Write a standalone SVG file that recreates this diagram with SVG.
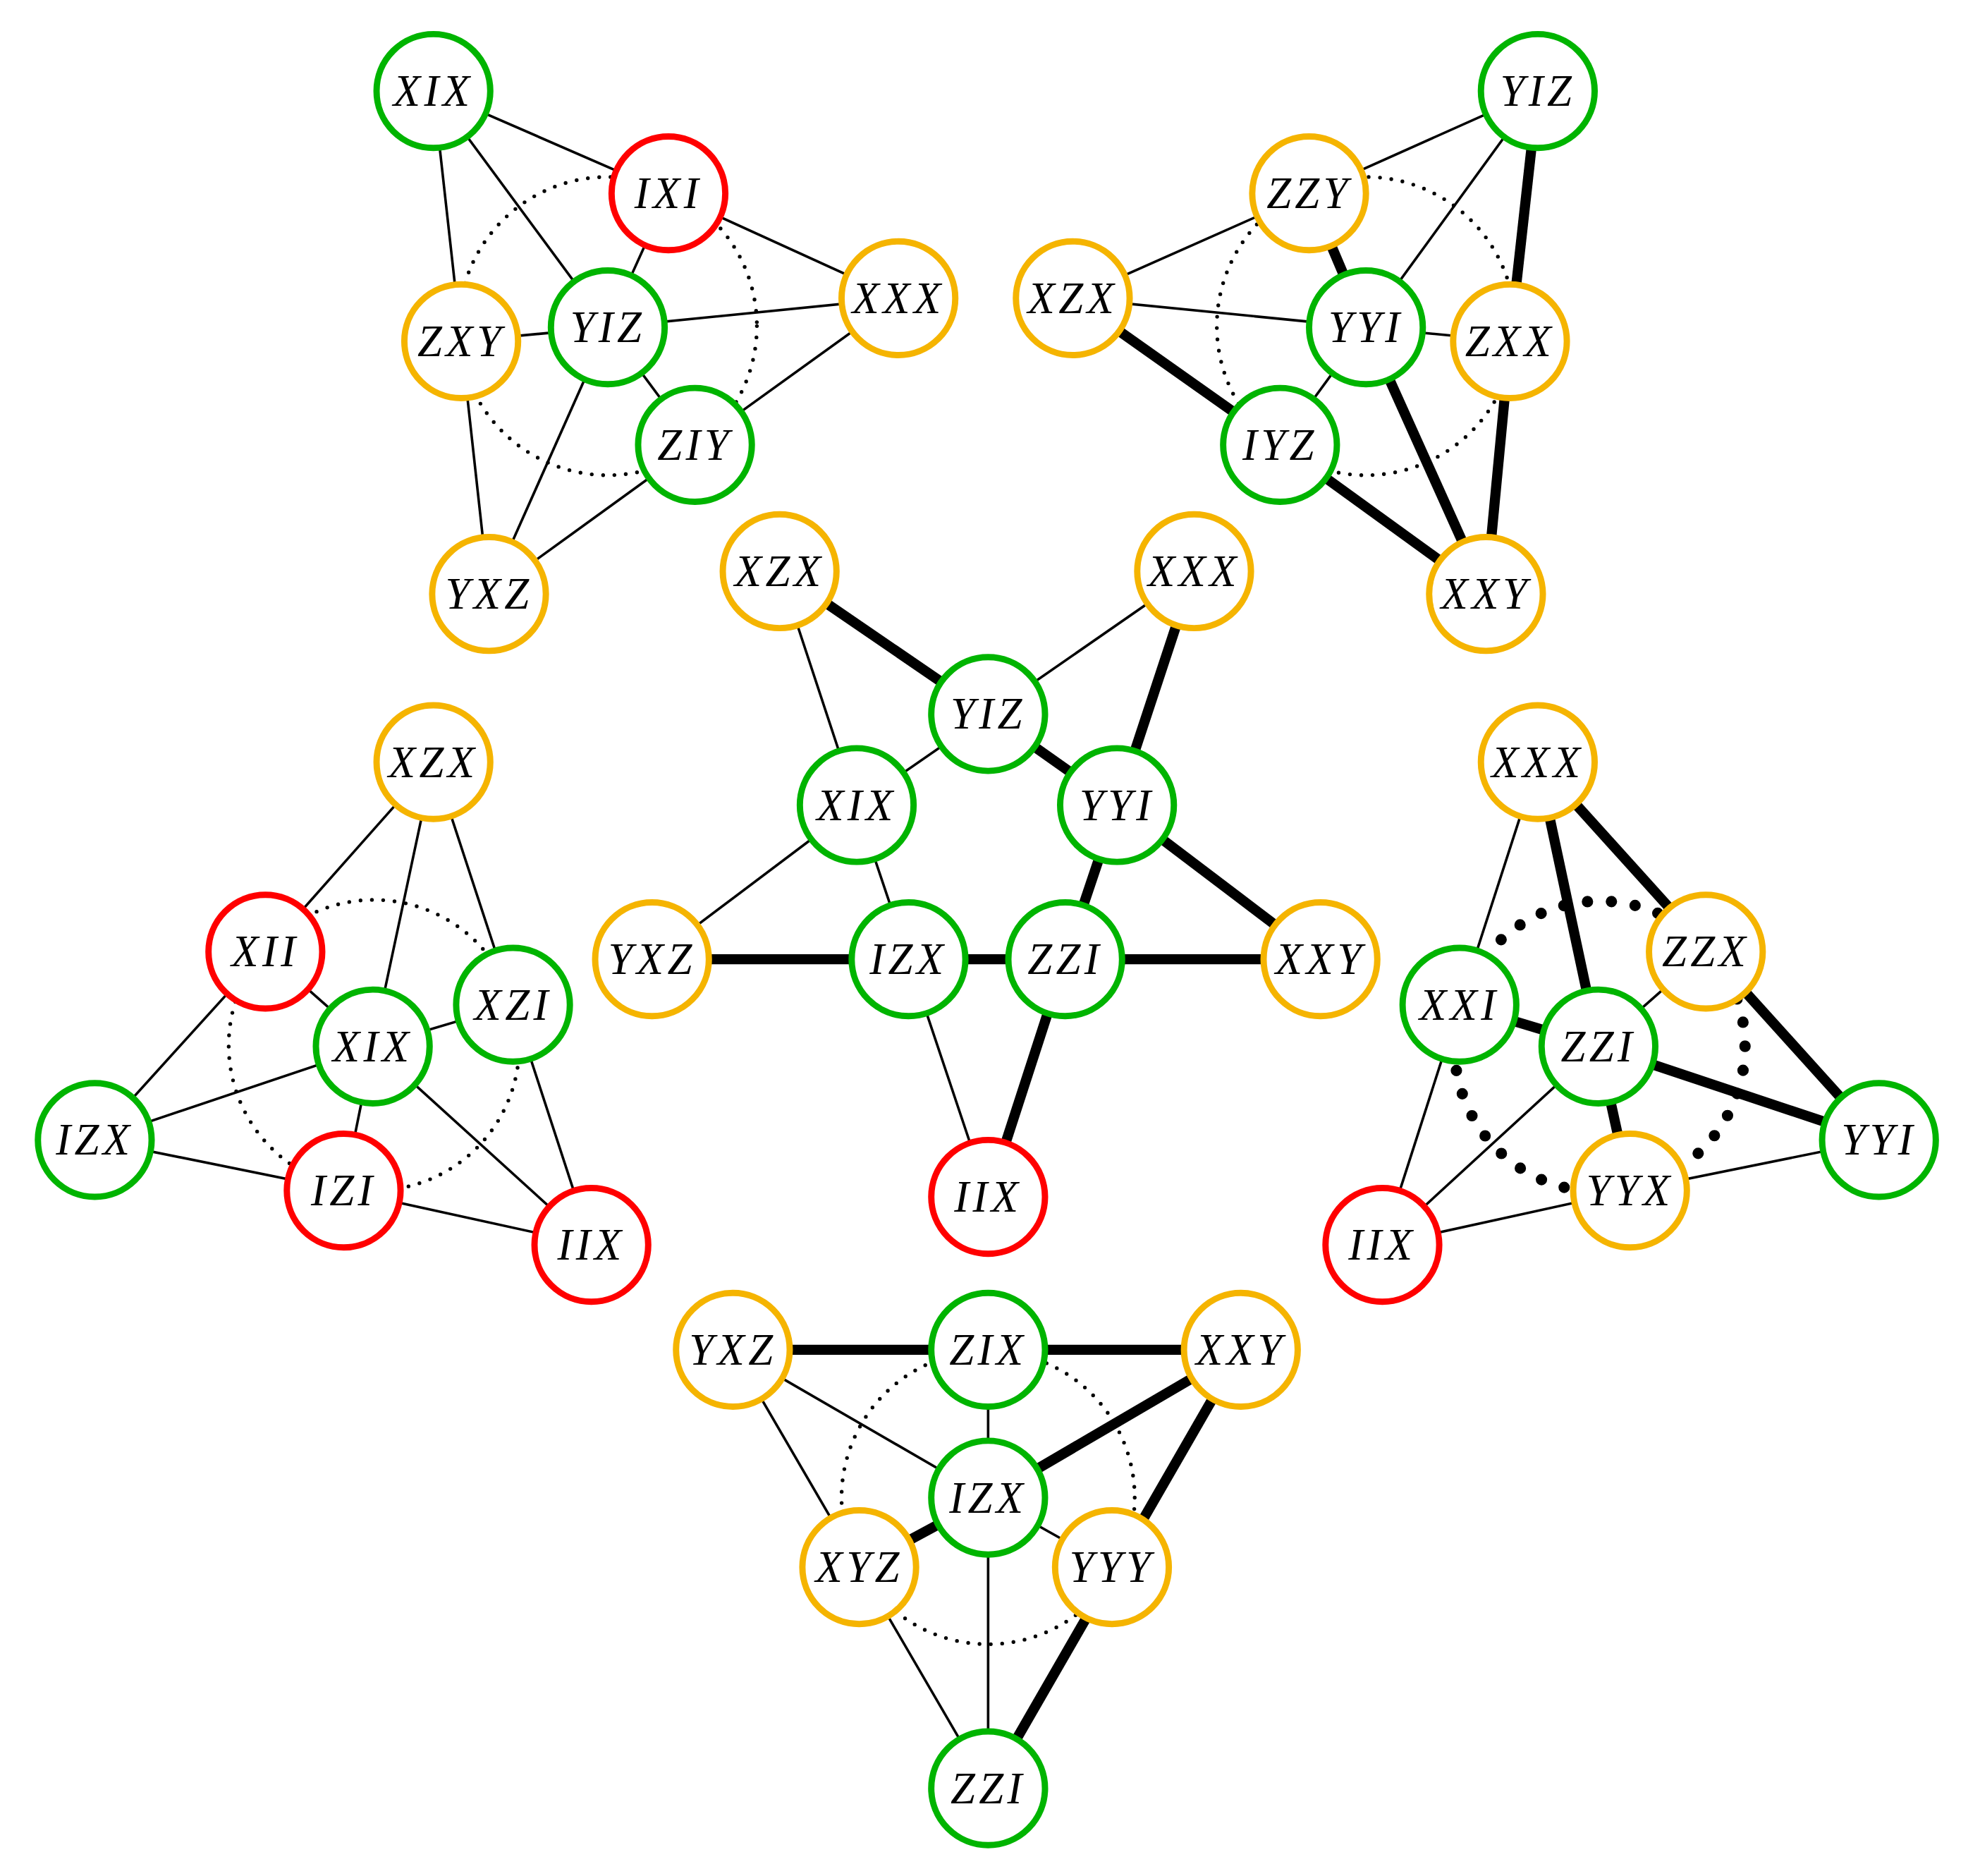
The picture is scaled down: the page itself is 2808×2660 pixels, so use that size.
<svg xmlns="http://www.w3.org/2000/svg" width="2808" height="2660" viewBox="0 0 2808 2660">
<style>
.n circle{fill:#fff;stroke-width:5}
.g circle{stroke:#00b400}.o circle{stroke:#f5b400}.r circle{stroke:#ff0000}
text{font-family:"Liberation Serif",serif;font-style:italic;font-size:35px;letter-spacing:3px;text-anchor:middle;dominant-baseline:central;fill:#000}
.t{stroke:#000;stroke-width:2}.k{stroke:#000;stroke-width:8}
.d{fill:none;stroke:#000;stroke-width:3;stroke-dasharray:0 9;stroke-linecap:round}
.D{fill:none;stroke:#000;stroke-width:9;stroke-dasharray:0 19;stroke-linecap:round}
</style>
<rect width="2808" height="2660" fill="#fff"/>
<g transform="scale(1.792)">
<g id="connectors">
<circle class="d" cx="481" cy="258" r="118"/>
<circle class="d" cx="1081" cy="258" r="118"/>
<circle class="d" cx="296" cy="827" r="115"/>
<circle class="D" cx="1266" cy="828" r="115"/>
<circle class="d" cx="782" cy="1185" r="116"/>
<line class="t" x1="343" y1="72" x2="529" y2="153"/><line class="t" x1="343" y1="72" x2="481" y2="259"/><line class="t" x1="343" y1="72" x2="365" y2="270"/>
<line class="t" x1="529" y1="153" x2="711" y2="236"/><line class="t" x1="529" y1="153" x2="481" y2="259"/><line class="t" x1="365" y1="270" x2="481" y2="259"/>
<line class="t" x1="481" y1="259" x2="711" y2="236"/><line class="t" x1="481" y1="259" x2="550" y2="352"/><line class="t" x1="711" y1="236" x2="550" y2="352"/>
<line class="t" x1="365" y1="270" x2="387" y2="470"/><line class="t" x1="481" y1="259" x2="387" y2="470"/><line class="t" x1="550" y1="352" x2="387" y2="470"/>
<line class="t" x1="1217" y1="72" x2="1036" y2="153"/><line class="t" x1="1217" y1="72" x2="1081" y2="259"/><line class="k" x1="1217" y1="72" x2="1195" y2="270"/>
<line class="t" x1="1036" y1="153" x2="849" y2="236"/><line class="k" x1="1036" y1="153" x2="1081" y2="259"/><line class="t" x1="849" y1="236" x2="1081" y2="259"/>
<line class="k" x1="849" y1="236" x2="1013" y2="352"/><line class="t" x1="1081" y1="259" x2="1195" y2="270"/><line class="t" x1="1081" y1="259" x2="1013" y2="352"/>
<line class="k" x1="1081" y1="259" x2="1176" y2="470"/><line class="k" x1="1195" y1="270" x2="1176" y2="470"/><line class="k" x1="1013" y1="352" x2="1176" y2="470"/>
<line class="k" x1="617" y1="452" x2="782" y2="565"/><line class="t" x1="617" y1="452" x2="678" y2="637"/><line class="t" x1="945" y1="452" x2="782" y2="565"/>
<line class="k" x1="945" y1="452" x2="884" y2="637"/><line class="t" x1="782" y1="565" x2="678" y2="637"/><line class="k" x1="782" y1="565" x2="884" y2="637"/>
<line class="t" x1="678" y1="637" x2="516" y2="759"/><line class="t" x1="678" y1="637" x2="719" y2="759"/><line class="k" x1="884" y1="637" x2="843" y2="759"/>
<line class="k" x1="884" y1="637" x2="1045" y2="759"/><line class="k" x1="516" y1="759" x2="1045" y2="759"/>
<line class="t" x1="719" y1="759" x2="782" y2="947"/><line class="k" x1="843" y1="759" x2="782" y2="947"/>
<line class="t" x1="343" y1="603" x2="210" y2="753"/><line class="t" x1="343" y1="603" x2="295" y2="828"/><line class="t" x1="343" y1="603" x2="406" y2="795"/>
<line class="t" x1="210" y1="753" x2="75" y2="902"/><line class="t" x1="210" y1="753" x2="295" y2="828"/><line class="t" x1="406" y1="795" x2="295" y2="828"/>
<line class="t" x1="406" y1="795" x2="468" y2="985"/><line class="t" x1="295" y1="828" x2="75" y2="902"/><line class="t" x1="295" y1="828" x2="272" y2="942"/>
<line class="t" x1="295" y1="828" x2="468" y2="985"/><line class="t" x1="75" y1="902" x2="272" y2="942"/><line class="t" x1="272" y1="942" x2="468" y2="985"/>
<line class="t" x1="1217" y1="603" x2="1155" y2="795"/><line class="k" x1="1217" y1="603" x2="1265" y2="828"/><line class="k" x1="1217" y1="603" x2="1487" y2="902"/>
<line class="k" x1="1155" y1="795" x2="1265" y2="828"/><line class="t" x1="1350" y1="753" x2="1265" y2="828"/><line class="k" x1="1265" y1="828" x2="1487" y2="902"/>
<line class="k" x1="1265" y1="828" x2="1290" y2="942"/><line class="t" x1="1265" y1="828" x2="1094" y2="985"/><line class="t" x1="1155" y1="795" x2="1094" y2="985"/>
<line class="t" x1="1290" y1="942" x2="1487" y2="902"/><line class="t" x1="1290" y1="942" x2="1094" y2="985"/>
<line class="k" x1="580" y1="1068" x2="982" y2="1068"/><line class="t" x1="580" y1="1068" x2="782" y2="1185"/><line class="t" x1="580" y1="1068" x2="782" y2="1415"/>
<line class="t" x1="782" y1="1068" x2="782" y2="1185"/><line class="k" x1="982" y1="1068" x2="782" y2="1185"/><line class="k" x1="982" y1="1068" x2="782" y2="1415"/>
<line class="k" x1="782" y1="1185" x2="680" y2="1240"/><line class="t" x1="782" y1="1185" x2="880" y2="1240"/><line class="t" x1="782" y1="1185" x2="782" y2="1415"/>
</g>
<g id="tl-XIX" class="n g"><circle cx="343" cy="72" r="45"/><text x="343" y="72">XIX</text></g>
<g id="tl-IXI" class="n r"><circle cx="529" cy="153" r="45"/><text x="529" y="153">IXI</text></g>
<g id="tl-XXX" class="n o"><circle cx="711" cy="236" r="45"/><text x="711" y="236">XXX</text></g>
<g id="tl-ZXY" class="n o"><circle cx="365" cy="270" r="45"/><text x="365" y="270">ZXY</text></g>
<g id="tl-YIZ" class="n g"><circle cx="481" cy="259" r="45"/><text x="481" y="259">YIZ</text></g>
<g id="tl-ZIY" class="n g"><circle cx="550" cy="352" r="45"/><text x="550" y="352">ZIY</text></g>
<g id="tl-YXZ" class="n o"><circle cx="387" cy="470" r="45"/><text x="387" y="470">YXZ</text></g>
<g id="tr-YIZ" class="n g"><circle cx="1217" cy="72" r="45"/><text x="1217" y="72">YIZ</text></g>
<g id="tr-ZZY" class="n o"><circle cx="1036" cy="153" r="45"/><text x="1036" y="153">ZZY</text></g>
<g id="tr-XZX" class="n o"><circle cx="849" cy="236" r="45"/><text x="849" y="236">XZX</text></g>
<g id="tr-YYI" class="n g"><circle cx="1081" cy="259" r="45"/><text x="1081" y="259">YYI</text></g>
<g id="tr-ZXX" class="n o"><circle cx="1195" cy="270" r="45"/><text x="1195" y="270">ZXX</text></g>
<g id="tr-IYZ" class="n g"><circle cx="1013" cy="352" r="45"/><text x="1013" y="352">IYZ</text></g>
<g id="tr-XXY" class="n o"><circle cx="1176" cy="470" r="45"/><text x="1176" y="470">XXY</text></g>
<g id="c-XZX" class="n o"><circle cx="617" cy="452" r="45"/><text x="617" y="452">XZX</text></g>
<g id="c-XXX" class="n o"><circle cx="945" cy="452" r="45"/><text x="945" y="452">XXX</text></g>
<g id="c-YIZ" class="n g"><circle cx="782" cy="565" r="45"/><text x="782" y="565">YIZ</text></g>
<g id="c-XIX" class="n g"><circle cx="678" cy="637" r="45"/><text x="678" y="637">XIX</text></g>
<g id="c-YYI" class="n g"><circle cx="884" cy="637" r="45"/><text x="884" y="637">YYI</text></g>
<g id="c-YXZ" class="n o"><circle cx="516" cy="759" r="45"/><text x="516" y="759">YXZ</text></g>
<g id="c-IZX" class="n g"><circle cx="719" cy="759" r="45"/><text x="719" y="759">IZX</text></g>
<g id="c-ZZI" class="n g"><circle cx="843" cy="759" r="45"/><text x="843" y="759">ZZI</text></g>
<g id="c-XXY" class="n o"><circle cx="1045" cy="759" r="45"/><text x="1045" y="759">XXY</text></g>
<g id="c-IIX" class="n r"><circle cx="782" cy="947" r="45"/><text x="782" y="947">IIX</text></g>
<g id="l-XZX" class="n o"><circle cx="343" cy="603" r="45"/><text x="343" y="603">XZX</text></g>
<g id="l-XII" class="n r"><circle cx="210" cy="753" r="45"/><text x="210" y="753">XII</text></g>
<g id="l-XZI" class="n g"><circle cx="406" cy="795" r="45"/><text x="406" y="795">XZI</text></g>
<g id="l-XIX" class="n g"><circle cx="295" cy="828" r="45"/><text x="295" y="828">XIX</text></g>
<g id="l-IZX" class="n g"><circle cx="75" cy="902" r="45"/><text x="75" y="902">IZX</text></g>
<g id="l-IZI" class="n r"><circle cx="272" cy="942" r="45"/><text x="272" y="942">IZI</text></g>
<g id="l-IIX" class="n r"><circle cx="468" cy="985" r="45"/><text x="468" y="985">IIX</text></g>
<g id="r-XXX" class="n o"><circle cx="1217" cy="603" r="45"/><text x="1217" y="603">XXX</text></g>
<g id="r-ZZX" class="n o"><circle cx="1350" cy="753" r="45"/><text x="1350" y="753">ZZX</text></g>
<g id="r-XXI" class="n g"><circle cx="1155" cy="795" r="45"/><text x="1155" y="795">XXI</text></g>
<g id="r-ZZI" class="n g"><circle cx="1265" cy="828" r="45"/><text x="1265" y="828">ZZI</text></g>
<g id="r-YYI" class="n g"><circle cx="1487" cy="902" r="45"/><text x="1487" y="902">YYI</text></g>
<g id="r-YYX" class="n o"><circle cx="1290" cy="942" r="45"/><text x="1290" y="942">YYX</text></g>
<g id="r-IIX" class="n r"><circle cx="1094" cy="985" r="45"/><text x="1094" y="985">IIX</text></g>
<g id="b-YXZ" class="n o"><circle cx="580" cy="1068" r="45"/><text x="580" y="1068">YXZ</text></g>
<g id="b-ZIX" class="n g"><circle cx="782" cy="1068" r="45"/><text x="782" y="1068">ZIX</text></g>
<g id="b-XXY" class="n o"><circle cx="982" cy="1068" r="45"/><text x="982" y="1068">XXY</text></g>
<g id="b-IZX" class="n g"><circle cx="782" cy="1185" r="45"/><text x="782" y="1185">IZX</text></g>
<g id="b-XYZ" class="n o"><circle cx="680" cy="1240" r="45"/><text x="680" y="1240">XYZ</text></g>
<g id="b-YYY" class="n o"><circle cx="880" cy="1240" r="45"/><text x="880" y="1240">YYY</text></g>
<g id="b-ZZI" class="n g"><circle cx="782" cy="1415" r="45"/><text x="782" y="1415">ZZI</text></g>
</g>
</svg>
